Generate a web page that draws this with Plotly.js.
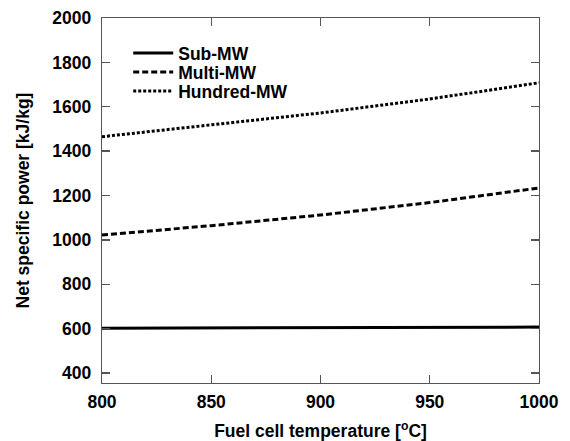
<!DOCTYPE html>
<html>
<head>
<meta charset="utf-8">
<script src="https://cdn.plot.ly/plotly-3.0.1.min.js"></script>
<style>html,body{margin:0;padding:0;background:#fff;}#chart{width:570px;height:441px;}</style>
</head>
<body>
<div id="chart"></div>
<script>
const temperature = [800, 850, 900, 950, 1000];
const subMW = [602, 603, 605, 606, 607];
const multiMW = [1022, 1064, 1112, 1168, 1234];
const hundredMW = [1465, 1520, 1572, 1635, 1708];
const seriesNames = ['Sub-MW', 'Multi-MW', 'Hundred-MW'];
const xTicks = [800, 850, 900, 950, 1000];
const yTicks = [400, 600, 800, 1000, 1200, 1400, 1600, 1800, 2000];

const F = '"Liberation Sans", Arial, sans-serif';
const B = s => '<b>' + s + '</b>';
const traces = [
  {x: temperature, y: subMW, name: B(seriesNames[0]), legend: 'legend', mode: 'lines', line: {color: '#000', width: 3, dash: 'solid'}},
  {x: temperature, y: multiMW, name: B(seriesNames[1]), legend: 'legend2', mode: 'lines', line: {color: '#000', width: 3, dash: '6px,3px'}},
  {x: temperature, y: hundredMW, name: B(seriesNames[2]), legend: 'legend3', mode: 'lines', line: {color: '#000', width: 3, dash: '3px,2px'}}
];
const axisCommon = {
  showgrid: false, zeroline: false, showline: true, linecolor: '#555', linewidth: 1.3,
  mirror: 'ticks', ticks: 'inside', ticklen: 8, tickwidth: 1.3, tickcolor: '#555',
  tickfont: {family: F, size: 17.5, color: '#000'}
};
const legendBase = {
  x: 0.06, xanchor: 'left', yanchor: 'middle',
  bgcolor: 'rgba(0,0,0,0)', borderwidth: 0,
  font: {family: F, size: 17.5, color: '#000'},
  itemwidth: 40
};
const rowY = px => 1 - (px - 18) / 365;
const layout = {
  width: 570, height: 441,
  margin: {l: 102, r: 31, t: 18, b: 58},
  paper_bgcolor: '#fff', plot_bgcolor: '#fff',
  font: {family: F, color: '#000'},
  xaxis: Object.assign({}, axisCommon, {
    range: [800, 1000], tickvals: xTicks, ticktext: xTicks.map(v => B(v)),
    ticklabelstandoff: 3,
    title: {text: B('Fuel cell temperature [<sup>o</sup>C]'), font: {family: F, size: 17.5, color: '#000'}, standoff: 15}
  }),
  yaxis: Object.assign({}, axisCommon, {
    range: [355, 2000], tickvals: yTicks, ticktext: yTicks.map(v => B(v)),
    ticklabelstandoff: 6,
    title: {text: B('Net specific power [kJ/kg]'), font: {family: F, size: 17.5, color: '#000'}, standoff: 18}
  }),
  showlegend: true,
  legend: Object.assign({}, legendBase, {y: rowY(53)}),
  legend2: Object.assign({}, legendBase, {y: rowY(72)}),
  legend3: Object.assign({}, legendBase, {y: rowY(91)})
};
Plotly.newPlot('chart', traces, layout, {displayModeBar: false, staticPlot: true});
</script>
</body>
</html>
